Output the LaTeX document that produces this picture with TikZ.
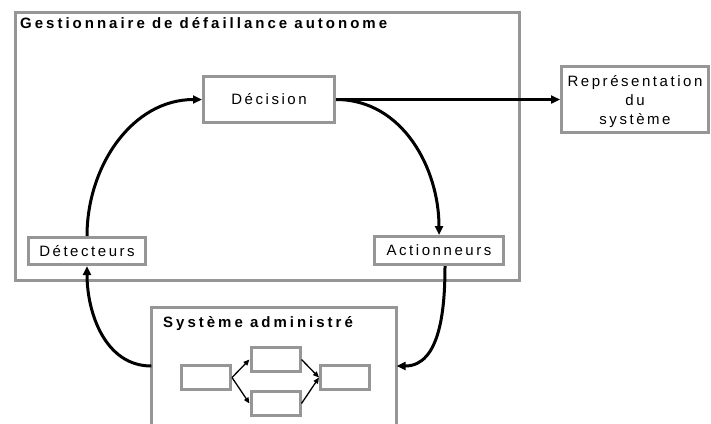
\documentclass[tikz,border=0pt]{standalone}
\usepackage{fontspec}
\setmainfont{Liberation Sans}[LetterSpace=17, BoldFeatures={LetterSpace=20}]
\usetikzlibrary{arrows.meta}
\definecolor{grisbord}{RGB}{150,150,150}
\tikzset{
  bloc/.style={draw=grisbord, line width=3pt, fill=white, inner sep=0pt, font=\fontsize{15}{19}\selectfont},
  fleche/.style={black, line width=3pt, -{Triangle[length=9pt,width=8pt]}},
  petitefleche/.style={black, line width=1.3pt, -{Triangle[length=6pt,width=5pt]}},
  titre/.style={font=\bfseries\fontsize{15}{18}\selectfont, anchor=base west, inner sep=0pt},
}

\begin{document}
\begin{tikzpicture}[x=1pt,y=-1pt]
        \useasboundingbox (0,0) rectangle (711,423);
        % gestionnaire
        \node[bloc, minimum width=504, minimum height=268] (gest) at (267.5,146.5) {};
        \node[titre] (gesttitre) at (20,28) {Gestionnaire de défaillance autonome};

        \node[bloc, minimum width=131, minimum height=46] (decision) at (269,99.5) {Décision};
        \node[bloc, minimum width=117, minimum height=27] (detect) at (87,251) {Détecteurs};
        \node[bloc, minimum width=129, minimum height=28] (action) at (439,250.5) {Actionneurs};
        \node[bloc, minimum width=147, minimum height=66, text depth=0pt, align=center] (repr) at (635,99.5) {Représentation\\du\\système};

        % systeme administre
        \node[minimum width=245, minimum height=116, inner sep=0pt] (sys) at (274,366) {};
        \draw[draw=grisbord, line width=3pt] (sys.south west) -- (sys.north west) -- (sys.north east) -- (sys.south east);
        \node[titre] (systitre) at (163,327) {Système administré};

        \node[bloc, minimum width=49, minimum height=24] (comp1) at (206,377.5) {};
        \node[bloc, minimum width=49, minimum height=24] (comp2) at (275.5,359.5) {};
        \node[bloc, minimum width=49, minimum height=24] (comp3) at (275.5,403.5) {};
        \node[bloc, minimum width=49, minimum height=24] (comp4) at (345,377.5) {};

        \draw[petitefleche] (comp1.east) -- (comp2.west);
        \draw[petitefleche] (comp1.east) -- (comp3.west);
        \draw[petitefleche] (comp2.east) -- (comp4.west);
        \draw[petitefleche] (comp3.east) -- (comp4.west);

        % boucle
        \draw[fleche] (decision.east) -- (repr.west);
        \draw[fleche] (decision.east) to[out=0, in=90] (action.north);
        \draw[fleche] (detect.north) to[out=90, in=180] (decision.west);
        \draw[fleche] (sys.west) to[out=180, in=-90] (detect.south);
        \draw[fleche] ([xshift=6]action.south) to[out=-90, in=0] (sys.east);
      \end{tikzpicture}
\end{document}
